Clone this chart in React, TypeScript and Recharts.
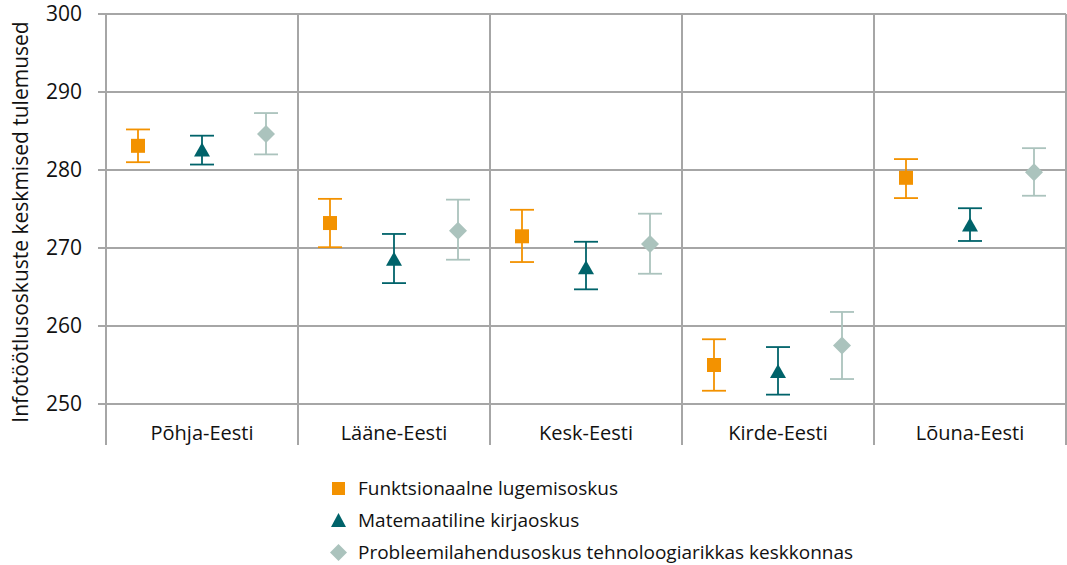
import {
  ScatterChart,
  Scatter,
  XAxis,
  YAxis,
  CartesianGrid,
  ReferenceLine,
  ErrorBar,
} from 'recharts';

const categories = ['Põhja-Eesti', 'Lääne-Eesti', 'Kesk-Eesti', 'Kirde-Eesti', 'Lõuna-Eesti'];

const reading = [283.1, 273.2, 271.5, 255.0, 279.0];
const readingLow = [281.0, 270.1, 268.2, 251.7, 276.4];
const readingHigh = [285.2, 276.3, 274.9, 258.3, 281.4];

const maths = [282.5, 268.5, 267.4, 254.1, 272.9];
const mathsLow = [280.7, 265.5, 264.7, 251.2, 270.9];
const mathsHigh = [284.4, 271.8, 270.8, 257.3, 275.1];

const problem = [284.6, 272.2, 270.5, 257.5, 279.7];
const problemLow = [282.0, 268.5, 266.7, 253.2, 276.7];
const problemHigh = [287.3, 276.2, 274.4, 261.8, 282.8];

const yTicks = [250, 260, 270, 280, 290, 300];

const seriesNames = [
  'Funktsionaalne lugemisoskus',
  'Matemaatiline kirjaoskus',
  'Probleemilahendusoskus tehnoloogiarikkas keskkonnas',
];

const ORANGE = '#f39200';
const TEAL = '#00636a';
const SAGE = '#abc3bd';
const GRID = '#a6a6a6';
const FONT = '"Open Sans", sans-serif';

// each category spans 3 units on the x axis, series sit at 0.5 / 1.5 / 2.5
const build = (vals: number[], lo: number[], hi: number[], offset: number) =>
  vals.map((v, i) => ({ x: i * 3 + offset, y: v, err: [v - lo[i], hi[i] - v] }));

const readingData = build(reading, readingLow, readingHigh, 0.5);
const mathsData = build(maths, mathsLow, mathsHigh, 1.5);
const problemData = build(problem, problemLow, problemHigh, 2.5);

const boundaries = categories.map((_, i) => i * 3).concat(categories.length * 3);
const xTicks = boundaries.concat(categories.map((_, i) => i * 3 + 1.5)).sort((a, b) => a - b);

const SquareShape = (p: any) => (
  <rect x={p.cx - 7} y={p.cy - 7} width={14} height={14} fill={ORANGE} />
);
const TriangleShape = (p: any) => (
  <path d={`M${p.cx},${p.cy - 8} L${p.cx + 8},${p.cy + 6} L${p.cx - 8},${p.cy + 6} Z`} fill={TEAL} />
);
const DiamondShape = (p: any) => (
  <path d={`M${p.cx},${p.cy - 9} L${p.cx + 9},${p.cy} L${p.cx},${p.cy + 9} L${p.cx - 9},${p.cy} Z`} fill={SAGE} />
);

const CategoryTick = (props: any) => {
  const { x, y, payload } = props;
  const v = payload.value;
  if (v % 3 === 0) {
    return <line x1={x} x2={x} y1={y} y2={y + 41} stroke={GRID} strokeWidth={2} />;
  }
  return (
    <text x={x} y={y + 36} textAnchor="middle" fontSize={20} fill="#111" fontFamily={FONT}>
      {categories[Math.floor(v / 3)]}
    </text>
  );
};

export default function App() {
  const legendMarks = [
    <rect key="s" x={3} y={3} width={13} height={13} fill={ORANGE} />,
    <path key="t" d="M9.5,2 L17,16 L2,16 Z" fill={TEAL} />,
    <path key="d" d="M9.5,1 L18,9.5 L9.5,18 L1,9.5 Z" fill={SAGE} />,
  ];

  return (
    <div style={{ position: 'absolute', left: 0, top: 0, width: 1067, height: 565, background: '#fff', overflow: 'hidden' }}>
      <ScatterChart width={1067} height={565} margin={{ top: 14, right: 1, bottom: 120, left: 0 }}>
        <CartesianGrid vertical={false} stroke={GRID} strokeWidth={2} />
        <XAxis
          type="number"
          dataKey="x"
          domain={[0, 15]}
          ticks={xTicks}
          interval={0}
          axisLine={false}
          tickLine={false}
          tickSize={0}
          tickMargin={0}
          height={41}
          tick={<CategoryTick />}
        />
        <YAxis
          type="number"
          dataKey="y"
          domain={[250, 300]}
          ticks={yTicks}
          interval={0}
          width={106}
          axisLine={false}
          tickLine={{ stroke: GRID, strokeWidth: 2 }}
          tickSize={8}
          tickMargin={16}
          tick={{ fontSize: 21, fill: '#111', fontFamily: FONT }}
        />
        {boundaries.map((b) => (
          <ReferenceLine key={b} x={b} stroke={GRID} strokeWidth={2} />
        ))}
        <Scatter data={readingData} shape={<SquareShape />} isAnimationActive={false}>
          <ErrorBar dataKey="err" direction="y" width={12} stroke={ORANGE} strokeWidth={1.8} />
        </Scatter>
        <Scatter data={mathsData} shape={<TriangleShape />} isAnimationActive={false}>
          <ErrorBar dataKey="err" direction="y" width={12} stroke={TEAL} strokeWidth={1.8} />
        </Scatter>
        <Scatter data={problemData} shape={<DiamondShape />} isAnimationActive={false}>
          <ErrorBar dataKey="err" direction="y" width={12} stroke={SAGE} strokeWidth={1.8} />
        </Scatter>
      </ScatterChart>

      <svg width={60} height={450} style={{ position: 'absolute', left: 0, top: 0 }}>
        <text
          transform="translate(28,222) rotate(-90)"
          textAnchor="middle"
          fontSize={21}
          fill="#111"
          fontFamily={FONT}
        >
          Infotöötlusoskuste keskmised tulemused
        </text>
      </svg>

      <div style={{ position: 'absolute', left: 329, top: 472, fontFamily: FONT, fontSize: 19, color: '#111', lineHeight: '24px' }}>
        {seriesNames.map((name, i) => (
          <div key={name} style={{ display: 'flex', alignItems: 'center', height: 32 }}>
            <svg width={19} height={19} style={{ marginRight: 10 }}>
              {legendMarks[i]}
            </svg>
            <span>{name}</span>
          </div>
        ))}
      </div>
    </div>
  );
}
